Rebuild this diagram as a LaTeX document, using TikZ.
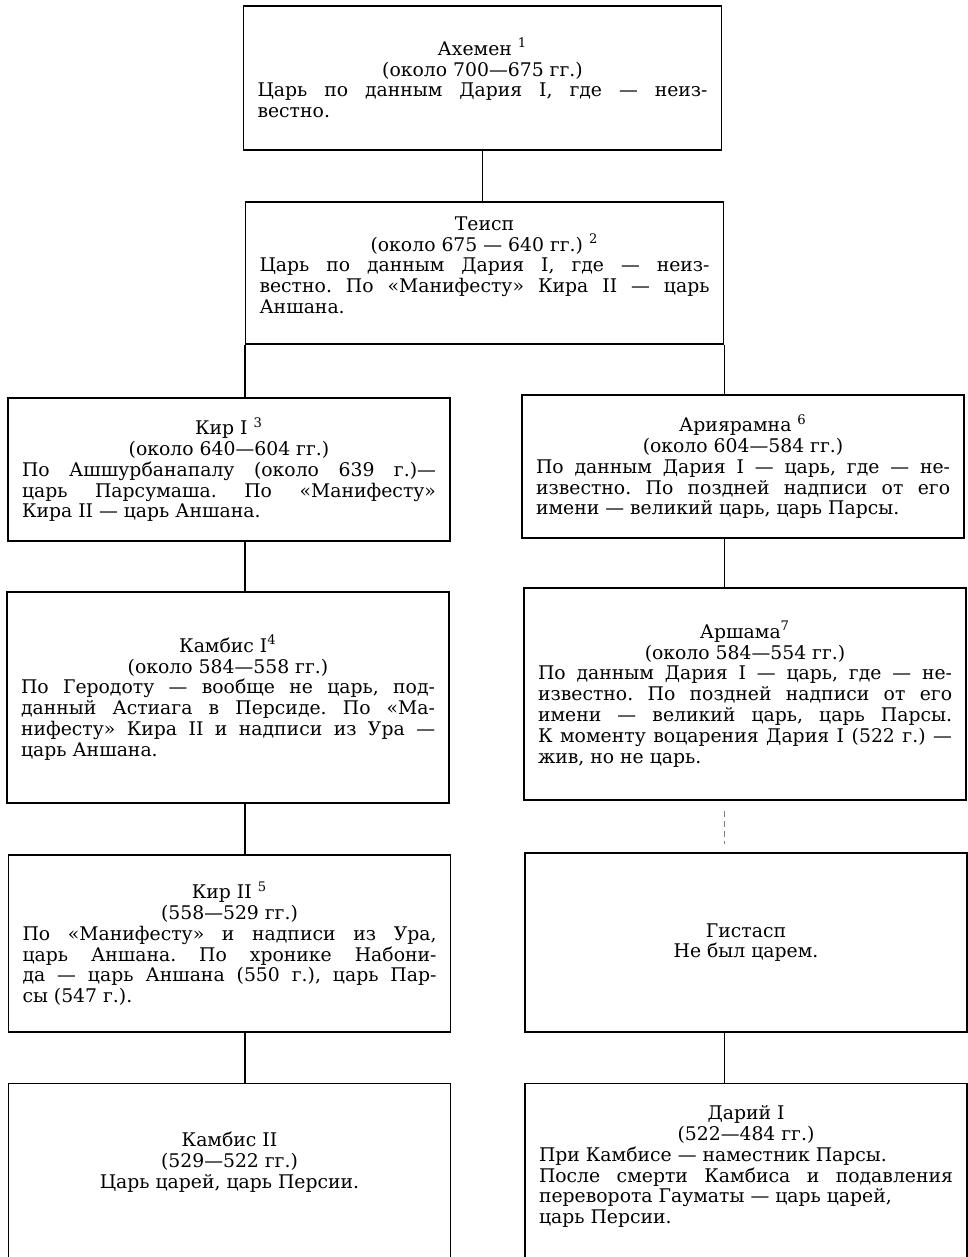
\documentclass[tikz,border=0pt]{standalone}
\usepackage{fontspec}
\setmainfont{DejaVu Serif}
\newcommand{\kinghead}[1]{{\centering #1\par}}
\begin{document}
\begin{tikzpicture}[x=0.5pt, y=-0.5pt,
  box/.style={draw, line width=0.6pt, inner xsep=7pt, inner ysep=3pt, align=justify,
    font={\fontsize{9.4}{10.4}\selectfont\tolerance=9999\relax\frenchspacing}},
  wide/.style={box, text width=225pt},
  narrow/.style={box, text width=207pt},
  link/.style={line width=0.6pt},
  gap/.style={line width=0.5pt, gray, densely dashed}]

\useasboundingbox (0,0) rectangle (968,1257);

\node[wide, minimum height=72pt] (achemen) at (482.5,78) {\kinghead{Ахемен \textsuperscript{1}\\ (около 700—675 гг.)}%
  Царь по данным Дария I, где — неиз-\linebreak вестно.};
\node[wide, minimum height=71pt] (teispes) at (484.5,273) {\kinghead{Теисп\\ (около 675 — 640 гг.) \textsuperscript{2}}%
  Царь по данным Дария I, где — неиз-\linebreak вестно. По «Манифесту» Кира II — царь\linebreak Аншана.\rule[-8pt]{0pt}{0pt}};

\node[narrow, minimum height=71.5pt] (cyrusone) at (229,469.5) {\kinghead{Кир I \textsuperscript{3}\\ (около 640—604 гг.)}%
  По Ашшурбанапалу (около 639 г.)—\linebreak царь Парсумаша. По «Манифесту»\linebreak Кира II — царь Аншана.};
\node[narrow, minimum height=71.5pt] (ariaramnes) at (743,466.5) {\kinghead{Ариярамна \textsuperscript{6}\\ (около 604—584 гг.)}%
  По данным Дария I — царь, где — не-\linebreak известно. По поздней надписи от его\linebreak имени — великий царь, царь Парсы.};

\node[narrow, minimum height=105.5pt] (cambysesone) at (228,697.5) {\kinghead{Камбис I\textsuperscript{4}\\ (около 584—558 гг.)}%
  По Геродоту — вообще не царь, под-\linebreak данный Астиага в Персиде. По «Ма-\linebreak нифесту» Кира II и надписи из Ура —\linebreak царь Аншана.};
\node[narrow, minimum height=106pt] (arsames) at (745,694) {\kinghead{Аршама\textsuperscript{7}\\ (около 584—554 гг.)}%
  По данным Дария I — царь, где — не-\linebreak известно. По поздней надписи от его\linebreak имени — великий царь, царь Парсы.\linebreak К моменту воцарения Дария I (522 г.) —\linebreak жив, но не царь.};

\node[narrow, minimum height=88.5pt] (cyrustwo) at (229.5,943.5) {\kinghead{Кир II \textsuperscript{5}\\ (558—529 гг.)}%
  По «Манифесту» и надписи из Ура,\linebreak царь Аншана. По хронике Набони-\linebreak да — царь Аншана (550 г.), царь Пар-\linebreak сы (547 г.).};
\node[narrow, minimum height=89.5pt] (hystaspes) at (746,942.5) {\kinghead{Гистасп\\ Не был царем.}};

\node[narrow, anchor=north] (cambysestwo) at (229.5,1083) {\kinghead{\rule{0pt}{28.5pt}Камбис II\\ (529—522 гг.)\\
  Царь царей, царь Персии.\rule[-60pt]{0pt}{0pt}}};
\node[narrow, anchor=north] (darius) at (746,1083) {\kinghead{\rule{0pt}{15pt}Дарий I\\ (522—484 гг.)}%
  При Камбисе — наместник Парсы.\newline После смерти Камбиса и подавления\linebreak переворота Гауматы — царь царей,\newline царь Персии.\rule[-30pt]{0pt}{0pt}};

\draw[link] (achemen.south) -- (achemen.south |- teispes.north);
\draw[link] (teispes.south west) -- (teispes.south west |- cyrusone.north);
\draw[link] (teispes.south east) -- (teispes.south east |- ariaramnes.north);
\draw[link] (cyrusone.south -| teispes.south west) -- (cambysesone.north -| teispes.south west);
\draw[link] (ariaramnes.south -| teispes.south east) -- (arsames.north -| teispes.south east);
\draw[link] (cambysesone.south -| teispes.south west) -- (cyrustwo.north -| teispes.south west);
\draw[gap, shorten <=5pt, shorten >=4pt] (arsames.south -| teispes.south east) -- (hystaspes.north -| teispes.south east);
\draw[link] (cyrustwo.south -| teispes.south west) -- (cambysestwo.north -| teispes.south west);
\draw[link] (hystaspes.south -| teispes.south east) -- (darius.north -| teispes.south east);
\end{tikzpicture}
\end{document}
